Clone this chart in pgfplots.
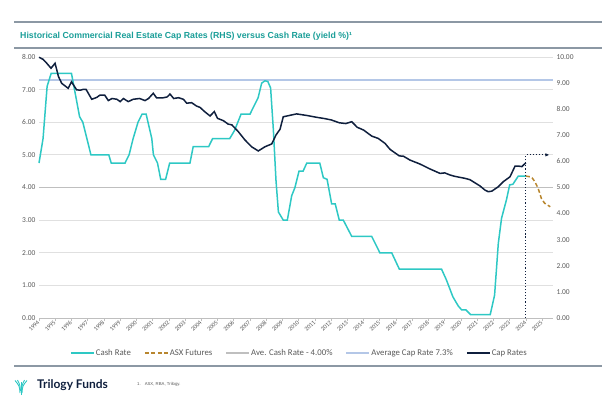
\documentclass[border=0pt]{standalone}
\usepackage{fontspec}
\setmainfont{Carlito}
\newfontfamily\arial{Liberation Sans}
\newfontfamily\lato{Lato}
\usepackage{pgfplots}
\pgfplotsset{compat=1.18}
\usetikzlibrary{arrows.meta}
\definecolor{cashc}{HTML}{2EC8C4}
\definecolor{capc}{HTML}{0F1F3D}
\definecolor{asxc}{HTML}{B8862E}
\definecolor{avecash}{HTML}{BFBFBF}
\definecolor{avecap}{HTML}{B4C7E7}
\definecolor{titlec}{HTML}{1A9E98}
\definecolor{rulec}{HTML}{8C98A4}
\definecolor{gridc}{HTML}{E0E0E0}
\definecolor{tickc}{HTML}{595959}
\begin{document}
\begin{tikzpicture}[x=1bp,y=1bp]
\path[use as bounding box] (0,0) rectangle (602,397);
\draw[rulec, line width=1.6bp] (14,375) -- (602,375);
\draw[rulec, line width=1.6bp] (14,349) -- (602,349);
\draw[rulec, line width=1.6bp] (14,31) -- (602,31);
\node[anchor=west, inner sep=0pt, text=titlec, font=\arial\bfseries\fontsize{8.8}{10}\selectfont] at (20,361) {Historical Commercial Real Estate Cap Rates (RHS) versus Cash Rate (yield \%)¹};
% logo
\begin{scope}[cashc, line width=0.9bp]
\draw (21,2) -- (21,15);
\draw (20,4) .. controls (19.5,11) .. (15,16.5);
\draw (22,4) .. controls (22.5,11) .. (27,16.5);
\draw (20.5,6) .. controls (20,12) .. (17.5,17);
\draw (21.5,6) .. controls (22,12) .. (24.5,17);
\end{scope}
\node[anchor=west, inner sep=0pt, text=capc, font=\lato\bfseries\fontsize{12}{14}\selectfont] at (37,12) {Trilogy Funds};
\node[anchor=west, inner sep=0pt, text=tickc, font=\arial\fontsize{4.3}{5}\selectfont] at (137,12.5) {1.\hspace{4bp}ASX, RBA, Trilogy.};

\begin{axis}[
  at={(39bp,79bp)}, anchor=south west,
  width=514bp, height=261bp, scale only axis,
  xmin=1994, xmax=2025.67,
  ymin=0, ymax=8,
  axis x line*=bottom,
  axis y line*=left,
  x axis line style={draw=avecash, line width=0.8bp},
  y axis line style={draw=none},
  xtick={1994,...,2025},
  xtick align=outside,
  x tick style={draw=avecash, line width=0.6bp},
  major tick length=3bp,
  ytick={0,1,...,8},
  y tick style={draw=none},
  ymajorgrids,
  grid style={draw=gridc, line width=0.8bp},
  /pgf/number format/assume math mode=true,
  xticklabel style={/pgf/number format/1000 sep={}},
  yticklabel style={/pgf/number format/fixed, /pgf/number format/fixed zerofill, /pgf/number format/precision=2},
  x tick label style={rotate=45, anchor=east, font=\fontsize{6.2}{7}\selectfont, text=tickc, inner sep=0.5bp},
  y tick label style={font=\fontsize{7.5}{9}\selectfont, text=tickc},
  legend columns=5,
  legend style={draw=none, fill=none, at={(0.506,-0.134)}, anchor=center,
    font=\fontsize{8.8}{10}\selectfont, text=tickc,
    /tikz/every even column/.append style={column sep=12bp},
    nodes={inner sep=1.2bp}},
  legend image code/.code={\draw[#1] (0bp,0bp) -- (23bp,0bp);},
  clip=false,
]
\addplot[avecash, line width=1.4bp, forget plot] coordinates {(1994,4) (2025.67,4)};
\addplot[avecap, line width=1.4bp, forget plot] coordinates {(1994,7.3) (2025.67,7.3)};
\addplot[cashc, line width=1.5bp] coordinates {
(1994.0,4.75) (1994.25,5.5) (1994.5,7.1) (1994.75,7.5) (1996.0,7.5) (1996.5,6.17) (1996.7,6.0)
(1997.2,5.0) (1998.3,5.0) (1998.45,4.75) (1999.3,4.75) (1999.55,5.0) (1999.8,5.5) (2000.1,6.0)
(2000.35,6.25) (2000.6,6.25) (2000.95,5.5) (2001.05,5.0) (2001.3,4.75) (2001.5,4.25) (2001.8,4.25)
(2002.05,4.75) (2003.3,4.75) (2003.5,5.25) (2004.45,5.25) (2004.7,5.5) (2005.75,5.5) (2006.05,5.75)
(2006.45,6.25) (2007.0,6.25) (2007.5,6.75) (2007.72,7.2) (2007.92,7.27) (2008.1,7.25) (2008.27,7.05)
(2008.44,5.77) (2008.6,4.23) (2008.75,3.25) (2009.05,3.0) (2009.3,3.0) (2009.57,3.75) (2009.77,4.0)
(2010.02,4.5) (2010.27,4.5) (2010.5,4.75) (2011.3,4.75) (2011.52,4.3) (2011.75,4.25) (2012.03,3.5)
(2012.25,3.5) (2012.5,3.0) (2012.75,3.0) (2013.27,2.5) (2014.5,2.5) (2015.0,2.0) (2015.73,2.0)
(2016.2,1.5) (2018.8,1.5) (2019.1,1.17) (2019.5,0.65) (2019.83,0.37) (2020.04,0.25) (2020.3,0.25)
(2020.6,0.1) (2021.8,0.1) (2022.07,0.7) (2022.3,2.29) (2022.5,3.06) (2022.8,3.62) (2023.0,4.08)
(2023.2,4.1) (2023.53,4.35) (2024.0,4.35)
};
\addlegendentry{Cash Rate}
\addplot[asxc, line width=1.5bp, dash pattern=on 4bp off 2.5bp] coordinates {
(2024.0,4.35) (2024.35,4.32) (2024.55,4.18) (2024.75,3.98) (2024.95,3.67) (2025.15,3.52) (2025.5,3.41)
};
\addlegendentry{ASX Futures}
\addlegendimage{avecash, line width=1.4bp}
\addlegendentry{Ave. Cash Rate - 4.00\%}
\addlegendimage{avecap, line width=1.4bp}
\addlegendentry{Average Cap Rate 7.3\%}
\addlegendimage{capc, line width=1.5bp}
\addlegendentry{Cap Rates}
\end{axis}

\begin{axis}[
  at={(39bp,79bp)}, anchor=south west,
  width=514bp, height=261bp, scale only axis,
  xmin=1994, xmax=2025.67,
  ymin=0, ymax=10,
  axis y line*=right,
  axis x line=none,
  xtick=\empty,
  y axis line style={draw=none},
  ytick={0,1,...,10},
  y tick style={draw=none},
  /pgf/number format/assume math mode=true,
  yticklabel style={/pgf/number format/fixed, /pgf/number format/fixed zerofill, /pgf/number format/precision=2},
  y tick label style={font=\fontsize{7.5}{9}\selectfont, text=tickc},
  clip=false,
]
\addplot[capc, line width=1.5bp] coordinates {
(1994.0,9.99) (1994.25,9.91) (1994.45,9.78) (1994.74,9.57) (1994.99,9.76) (1995.2,9.25) (1995.4,8.99)
(1995.8,8.8) (1996.0,9.05) (1996.32,8.74) (1996.55,8.73) (1996.73,8.76) (1996.9,8.76) (1997.25,8.38)
(1997.55,8.45) (1997.76,8.54) (1998.05,8.54) (1998.27,8.33) (1998.5,8.41) (1998.8,8.38) (1999.0,8.29)
(1999.2,8.41) (1999.5,8.29) (1999.8,8.38) (2000.2,8.41) (2000.53,8.33) (2000.75,8.41) (2001.04,8.61)
(2001.25,8.43) (2001.6,8.43) (2001.9,8.47) (2002.07,8.58) (2002.3,8.41) (2002.6,8.44) (2002.9,8.38)
(2003.1,8.23) (2003.4,8.25) (2003.71,8.12) (2003.92,8.07) (2004.2,7.91) (2004.54,7.74) (2004.8,7.91)
(2005.0,7.65) (2005.36,7.56) (2005.65,7.43) (2005.88,7.40) (2006.28,7.14) (2006.69,6.82) (2007.1,6.56)
(2007.51,6.40) (2007.92,6.56) (2008.34,6.67) (2008.6,7.01) (2008.85,7.23) (2009.05,7.71) (2009.35,7.75)
(2009.87,7.82) (2010.5,7.76) (2011.1,7.69) (2011.6,7.64) (2012.0,7.59) (2012.5,7.48) (2012.9,7.45)
(2013.27,7.52) (2013.6,7.31) (2014.0,7.2) (2014.5,6.97) (2014.9,6.88) (2015.32,6.69) (2015.63,6.46)
(2016.2,6.21) (2016.45,6.2) (2016.86,6.05) (2017.47,5.90) (2018.09,5.71) (2018.71,5.54) (2019.0,5.56)
(2019.32,5.48) (2019.6,5.43) (2020.25,5.35) (2020.55,5.30) (2020.86,5.18) (2021.17,5.06) (2021.48,4.9)
(2021.68,4.84) (2021.9,4.86) (2022.3,5.03) (2022.6,5.22) (2023.02,5.41) (2023.33,5.82) (2023.55,5.82)
(2023.75,5.80) (2024.0,5.95)
};
\addplot[capc, line width=1.1bp, dotted, -{Latex[length=4bp,width=3.5bp]}] coordinates {(2024,0) (2024,6.25) (2025.45,6.25)};
\end{axis}
\end{tikzpicture}
\end{document}
